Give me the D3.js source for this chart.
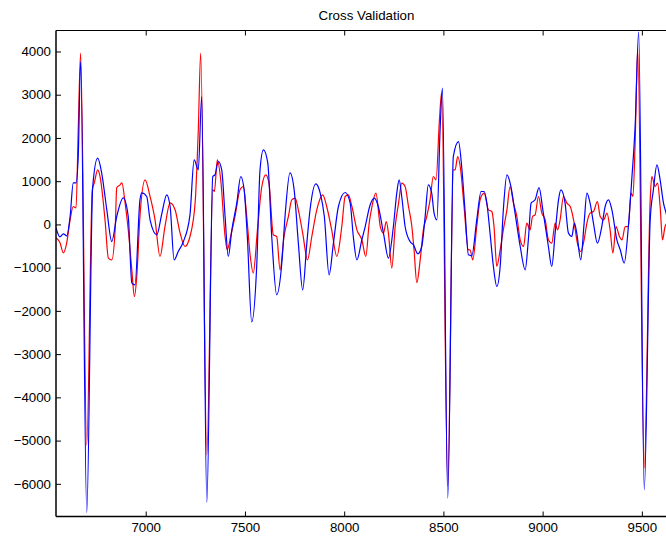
<!DOCTYPE html>
<html>
<head>
<meta charset="utf-8">
<script src="https://cdn.jsdelivr.net/npm/d3@7"></script>
<style>
  body { margin: 0; background: #fff; }
  svg { display: block; font-family: "Liberation Sans", Arial, Helvetica, sans-serif; }
  .tick line { stroke: #000; }
  .tick text { font-size: 13.3px; fill: #000; }
</style>
</head>
<body>
<svg width="666" height="542"></svg>
<script>
var title = "Cross Validation";
var xTicks = [7000, 7500, 8000, 8500, 9000, 9500];
var yTicks = [-6000, -5000, -4000, -3000, -2000, -1000, 0, 1000, 2000, 3000, 4000];

// predicted signal (red), [sample, value]
var redSignal = [
  [6548,-310],[6568,-426],[6585,-657],[6602,-426],[6619,106],[6635,414],[6649,384],[6660,2188],[6672,3962],
  [6703,-5114],[6731,800],[6741,962],[6758,1263],[6770,1108],[6795,106],[6812,-779],[6829,-819],[6846,-125],
  [6854,847],[6871,916],[6880,962],[6896,500],[6912,-125],[6930,-1050],[6943,-1668],[6955,-1205],[6971,183],
  [6997,1032],[7022,645],[7047,106],[7072,-742],[7097,-49],[7123,500],[7148,338],[7173,-194],[7198,-511],
  [7223,-280],[7249,500],[7265,2188],[7277,3962],[7308,-5329],[7338,800],[7346,761],[7361,1494],[7378,1032],
  [7400,-280],[7411,-587],[7428,-280],[7450,183],[7475,800],[7492,877],[7509,183],[7526,-703],[7542,-1126],
  [7563,-125],[7585,877],[7605,1147],[7621,955],[7643,-240],[7660,-280],[7677,-1050],[7697,-280],[7719,183],
  [7736,569],[7753,608],[7769,338],[7791,-201],[7815,-819],[7837,-280],[7862,338],[7892,685],[7912,414],
  [7937,-125],[7963,-742],[7988,-49],[8005,645],[8021,685],[8039,414],[8064,-125],[8089,-356],[8109,-742],
  [8126,30],[8140,414],[8160,724],[8182,-49],[8198,-201],[8212,67],[8223,-201],[8240,-1011],[8257,-49],
  [8274,493],[8290,955],[8307,877],[8324,414],[8341,-49],[8352,-587],[8366,-1344],[8383,-819],[8399,-125],
  [8416,183],[8433,569],[8449,1108],[8463,1032],[8480,2419],[8491,3044],[8522,-6046],[8550,1263],[8559,1263],
  [8572,1571],[8587,1263],[8604,414],[8626,-587],[8634,-587],[8648,-819],[8668,-49],[8685,569],[8705,724],
  [8727,338],[8744,298],[8755,-49],[8769,-974],[8786,-587],[8802,-125],[8820,338],[8836,877],[8853,493],
  [8870,183],[8887,-356],[8904,-511],[8920,30],[8937,-125],[8949,183],[8962,222],[8979,645],[8996,261],
  [9013,106],[9029,-356],[9046,-433],[9063,30],[9075,-125],[9088,106],[9105,645],[9122,493],[9139,414],
  [9159,30],[9175,-433],[9192,-627],[9209,-356],[9223,30],[9239,261],[9256,298],[9276,530],[9290,183],
  [9307,106],[9324,261],[9340,-125],[9354,-664],[9370,-49],[9387,-280],[9400,-356],[9416,-49],[9432,-49],
  [9445,724],[9455,645],[9466,1880],[9479,4062],[9512,-5630],[9542,569],[9550,1108],[9567,877],[9579,955],
  [9592,414],[9604,-356],[9617,-49],[9640,100]
];

// reference signal (blue), [sample, value]
var blueSignal = [
  [6548,-79],[6568,-287],[6585,-217],[6602,-264],[6619,176],[6635,962],[6649,962],[6660,1563],[6672,3768],
  [6703,-6664],[6733,877],[6758,1534],[6778,1194],[6804,338],[6829,-396],[6854,183],[6887,615],[6912,183],
  [6930,-1351],[6946,-1397],[6971,569],[6980,731],[7005,645],[7022,106],[7056,-240],[7080,222],[7106,685],
  [7123,414],[7143,-819],[7164,-627],[7190,-396],[7223,222],[7244,1494],[7265,1263],[7282,2958],[7308,-6432],
  [7338,1108],[7349,1147],[7366,1455],[7383,1263],[7400,183],[7416,-742],[7434,-125],[7459,500],[7479,1108],
  [7496,800],[7512,-280],[7534,-2253],[7560,-888],[7576,1263],[7593,1726],[7615,1425],[7635,-280],[7660,-1628],
  [7686,-888],[7702,183],[7727,1194],[7748,800],[7769,-426],[7791,-1513],[7812,-426],[7828,338],[7857,939],
  [7879,731],[7900,183],[7924,-1166],[7946,-426],[7971,414],[8005,738],[8030,500],[8046,-280],[8064,-819],
  [8089,-356],[8106,-49],[8131,453],[8152,608],[8172,414],[8198,-201],[8223,-779],[8248,-49],[8265,724],
  [8277,1032],[8290,645],[8307,-49],[8332,-396],[8349,-472],[8371,-680],[8391,-511],[8408,183],[8424,916],
  [8441,724],[8453,261],[8467,106],[8484,2264],[8495,3153],[8522,-6331],[8550,1571],[8576,1917],[8592,1339],
  [8609,315],[8626,-703],[8643,-726],[8668,106],[8690,761],[8705,761],[8719,493],[8735,-201],[8752,-974],
  [8769,-1436],[8786,-974],[8802,338],[8820,1147],[8840,877],[8861,261],[8887,-511],[8912,-1050],[8928,-356],
  [8942,493],[8962,569],[8982,853],[9001,338],[9029,-511],[9046,-974],[9063,-201],[9080,569],[9092,800],
  [9113,493],[9130,-201],[9147,-280],[9160,30],[9172,-201],[9192,-819],[9209,30],[9223,724],[9239,493],
  [9256,30],[9276,-433],[9298,-49],[9315,414],[9332,569],[9349,338],[9374,-356],[9391,-587],[9411,-895],
  [9432,-49],[9449,1032],[9466,2264],[9484,4455],[9512,-6139],[9542,106],[9558,800],[9576,1379],[9592,1032],
  [9609,493],[9622,261],[9650,-300]
];

var margin = {top: 30.5, left: 56, bottom: 516.5, right: 677};
var svg = d3.select("svg");

var xScale = d3.scaleLinear()
    .domain([6548, 9677])
    .range([margin.left, margin.right]);

var yScale = d3.scaleLinear()
    .domain([-6756, 4485])
    .range([margin.bottom, margin.top]);

svg.append("defs").append("clipPath").attr("id", "plotclip")
  .append("rect")
    .attr("x", margin.left)
    .attr("y", margin.top)
    .attr("width", margin.right - margin.left)
    .attr("height", margin.bottom - margin.top);

var line = d3.line()
    .x(function(d) { return xScale(d[0]); })
    .y(function(d) { return yScale(d[1]); })
    .curve(d3.curveMonotoneX);

var plot = svg.append("g").attr("clip-path", "url(#plotclip)");

plot.append("path")
    .datum(redSignal)
    .attr("d", line)
    .attr("fill", "none")
    .attr("stroke", "#ff0000")
    .attr("stroke-width", 1.2);

plot.append("path")
    .datum(blueSignal)
    .attr("d", line)
    .attr("fill", "none")
    .attr("stroke", "#0000ff")
    .attr("stroke-width", 1.2);

var fmt = d3.format("d");

// axes, ticks pointing inward like matlab
svg.append("g")
    .attr("transform", "translate(" + margin.left + ",0)")
    .call(d3.axisLeft(yScale).tickValues(yTicks).tickSize(-5).tickPadding(5).tickFormat(fmt))
    .call(function(g) { g.select(".domain").remove(); });

svg.append("g")
    .attr("transform", "translate(0," + margin.bottom + ")")
    .call(d3.axisBottom(xScale).tickValues(xTicks).tickSize(-5).tickPadding(6).tickFormat(fmt))
    .call(function(g) { g.select(".domain").remove(); });

svg.append("g")
    .attr("transform", "translate(0," + margin.top + ")")
    .call(d3.axisTop(xScale).tickValues(xTicks).tickSize(-5).tickFormat(""))
    .call(function(g) { g.select(".domain").remove(); });

svg.selectAll(".tick text").attr("font-family", null).attr("font-size", null);

// box
svg.append("line")
    .attr("x1", margin.left).attr("x2", margin.left)
    .attr("y1", margin.top).attr("y2", margin.bottom)
    .attr("stroke", "#000").attr("stroke-width", 1.5);
svg.append("line")
    .attr("x1", margin.left).attr("x2", margin.right)
    .attr("y1", margin.bottom).attr("y2", margin.bottom)
    .attr("stroke", "#000").attr("stroke-width", 1.5);
svg.append("line")
    .attr("x1", margin.left).attr("x2", margin.right)
    .attr("y1", margin.top).attr("y2", margin.top)
    .attr("stroke", "#000").attr("stroke-width", 1);

svg.append("text")
    .attr("x", (margin.left + margin.right) / 2)
    .attr("y", 20)
    .attr("text-anchor", "middle")
    .attr("font-size", "13.3px")
    .text(title);
</script>
</body>
</html>
